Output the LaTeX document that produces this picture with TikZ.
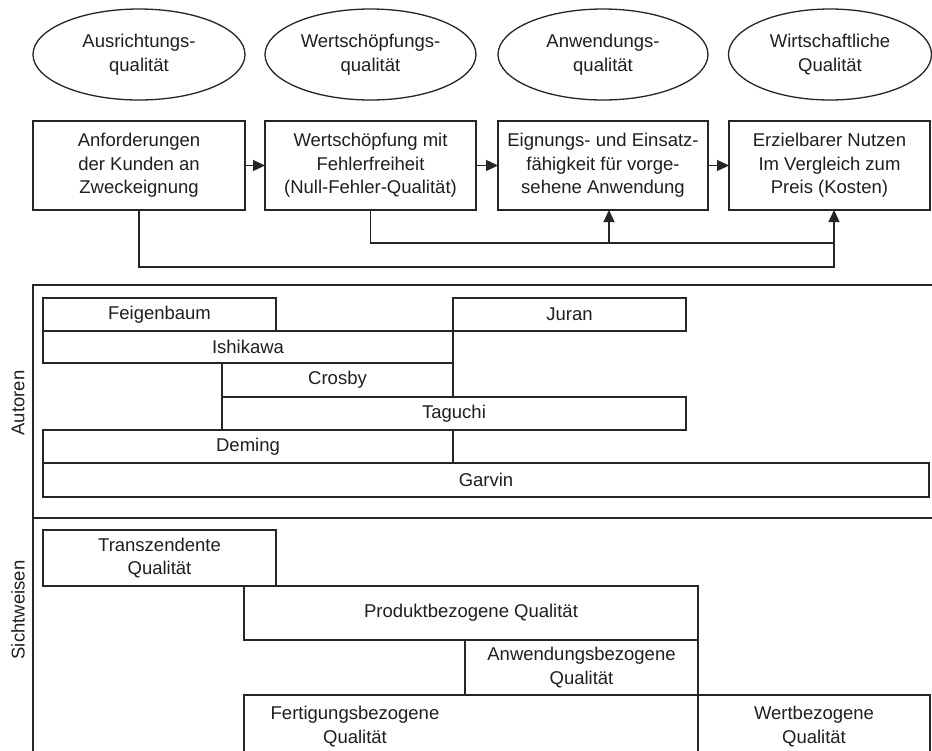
\documentclass[tikz,border=0pt]{standalone}
\usepackage{fontspec}
\setmainfont{Liberation Sans}
\usetikzlibrary{shapes.geometric,arrows.meta}
\begin{document}
\begin{tikzpicture}[x=1pt,y=-1pt,
  every node/.style={font=\fontsize{18.5}{23.5}\selectfont, text=black!88, inner sep=0pt, outer sep=0pt},
  frame/.style={line width=1.3pt, draw=black!85},
  ell/.style={frame, ellipse, align=center, minimum height=91},
  stage/.style={frame, rectangle, align=center, minimum height=89},
  bar/.style={frame, rectangle, align=center},
  arr/.style={frame, -{Triangle[length=12pt,width=11pt]}},
  link/.style={frame}
]
\useasboundingbox (0,0) rectangle (932,750);
\clip (0,0) rectangle (932,750);
\fill[white] (0,0) rectangle (932,750);

% quality dimensions
\node[ell, minimum width=212] (e1) at (139,54.5) {Ausrichtungs-\\qualität};
\node[ell, minimum width=211] (e2) at (370.5,54.5) {Wertschöpfungs-\\qualität};
\node[ell, minimum width=210] (e3) at (603,54.5) {Anwendungs-\\qualität};
\node[ell, minimum width=203] (e4) at (830,54.5) {Wirtschaftliche\\Qualität};

% process chain
\node[stage, minimum width=212] (b1) at (139,165.5) {Anforderungen\\der Kunden an\\Zweckeignung};
\node[stage, minimum width=211] (b2) at (370.5,165.5) {Wertschöpfung mit\\Fehlerfreiheit\\(Null-Fehler-Qualität)};
\node[stage, minimum width=210] (b3) at (603,165.5) {Eignungs- und Einsatz-\\fähigkeit für vorge-\\sehene Anwendung};
\node[stage, minimum width=201] (b4) at (829.5,165.5) {Erzielbarer Nutzen\\Im Vergleich zum\\Preis (Kosten)};

\draw[arr] (b1) -- (b2);
\draw[arr] (b2) -- (b3);
\draw[arr] (b3) -- (b4);

\coordinate (j1) at (834,267);
\coordinate (t3) at (609,243);
\coordinate (t4) at (834,243);
\draw[arr] (b1.south) |- (j1) -- (j1 |- b4.south);
\draw[link] (b2.south) |- (t4);
\draw[arr] (t3) -- (t3 |- b3.south);

% lower frame with two bands
\draw[frame] (945,285) -- (33,285) -- (33,760);
\draw[frame] (33,518) -- (945,518);
\node[rotate=90] (lblA) at (18,403) {Autoren};
\node[rotate=90] (lblS) at (18,610) {Sichtweisen};

% authors
\node[bar, minimum width=233, minimum height=33] (feig) at (159.5,314.5) {Feigenbaum};
\node[bar, minimum width=233, minimum height=33] (juran) at (569.5,314.5) {Juran};
\node[bar, minimum width=410, minimum height=32] (ishi) at (248,347) {Ishikawa};
\node[bar, minimum width=231, minimum height=34] (crosby) at (337.5,380) {Crosby};
\node[bar, minimum width=464, minimum height=33] (tagu) at (454,413.5) {Taguchi};
\node[bar, minimum width=410, minimum height=33] (deming) at (248,446.5) {Deming};
\node[bar, minimum width=886, minimum height=34] (garvin) at (486,480) {Garvin};

% views on quality
\node[bar, minimum width=233, minimum height=56] (trans) at (159.5,558) {Transzendente\\Qualität};
\node[bar, minimum width=454, minimum height=54] (prod) at (471,613) {Produktbezogene Qualität};
\node[bar, minimum width=233, minimum height=55] (anw) at (581.5,667.5) {Anwendungsbezogene\\Qualität};
\node[bar, minimum width=454, minimum height=70] (fert) at (471,730) {};
\node (fertT) at (355,726.5) [align=center] {Fertigungsbezogene\\Qualität};
\node[bar, minimum width=232, minimum height=70] (wert) at (814,730) {};
\node (wertT) at (814,726.5) [align=center] {Wertbezogene\\Qualität};
\end{tikzpicture}
\end{document}
